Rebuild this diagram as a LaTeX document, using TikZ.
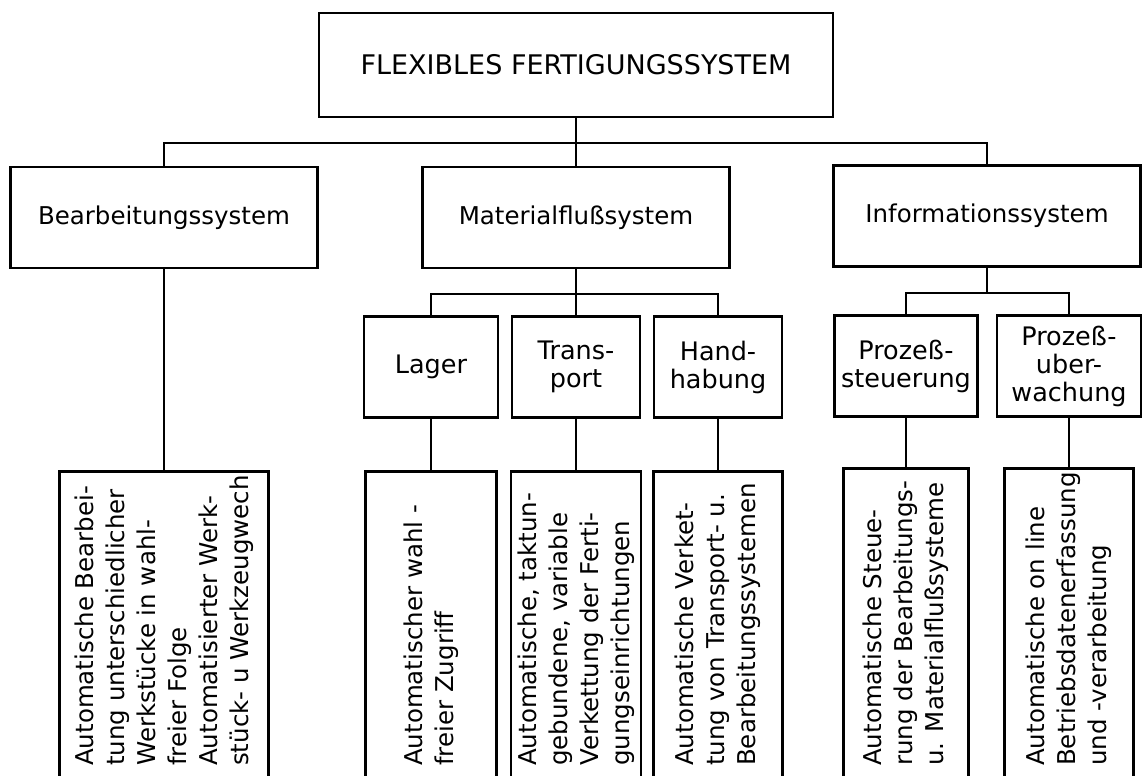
\documentclass[tikz,border=0pt]{standalone}
\usepackage{fontspec}
\setmainfont{DejaVu Sans}
\begin{document}
\begin{tikzpicture}[x=1pt, y=-1pt,
  sysbox/.style={draw, rectangle, line width=2.8pt, inner sep=0pt, align=center, minimum width=307pt, minimum height=101pt, font=\fontsize{24.5}{27}\selectfont},
  subbox/.style={draw, rectangle, line width=2.8pt, inner sep=0pt, align=center, minimum height=101pt, font=\fontsize{25.5}{28}\selectfont},
  detail/.style={draw, rectangle, line width=2.8pt, anchor=north, inner sep=0pt, minimum height=314pt},
  dtext/.style={rotate=90, anchor=west, align=left, inner sep=0pt, font=\fontsize{24.5}{31}\selectfont},
  link/.style={line width=1.8pt}]
\clip (0,0) rectangle (1143,776);

\node[draw, rectangle, line width=2.8pt, minimum width=514pt, minimum height=104pt, font=\fontsize{27}{30}\selectfont] (ffs) at (576,65) {FLEXIBLES FERTIGUNGSSYSTEM};

\node[sysbox] (bearb) at (164,217.5) {Bearbeitungssystem};
\node[sysbox] (mat) at (576,217.5) {Materialflußsystem};
\node[sysbox] (info) at (987,216) {Informationssystem};

\node[subbox, minimum width=134pt] (lager) at (431,367) {Lager};
\node[subbox, minimum width=128pt] (trans) at (576,367) {Trans-\\port};
\node[subbox, minimum width=128pt] (hand) at (718,367) {Hand-\\habung};
\node[subbox, minimum width=143pt] (steu) at (906,366) {Prozeß-\\steuerung};
\node[subbox, minimum width=144pt] (ueber) at (1069,366) {Prozeß-\\uber-\\wachung};

\node[detail, minimum width=209pt] (bearbd) at (164,470) {};
\node[detail, minimum width=131pt] (lagerd) at (431,470) {};
\node[detail, minimum width=130pt] (transd) at (576,470) {};
\node[detail, minimum width=129pt] (handd) at (718,470) {};
\node[detail, minimum width=125pt] (steud) at (906,467) {};
\node[detail, minimum width=129pt] (ueberd) at (1069,467) {};

\node[dtext] (bearbt) at (164,766) {Automatische Bearbei-\\tung unterschiedlicher\\Werkstücke in wahl-\\freier Folge\\Automatisierter Werk-\\stück- u Werkzeugwech};
\node[dtext] (lagert) at (431,766) {Automatischer wahl -\\freier Zugriff};
\node[dtext] (transt) at (576,766) {Automatische, taktun-\\gebundene, variable\\Verkettung der Ferti-\\gungseinrichtungen};
\node[dtext] (handt) at (718,766) {Automatische Verket-\\tung von Transport- u.\\Bearbeitungssystemen};
\node[dtext] (steut) at (906,766) {Automatische Steue-\\rung der Bearbeitungs-\\u. Materialflußsysteme};
\node[dtext] (uebert) at (1069,766) {Automatische on line\\Betriebsdatenerfassung\\und -verarbeitung};

\coordinate (bus) at (576,143);
\coordinate (matbus) at (576,294);
\coordinate (infobus) at (987,293);

\draw[link] (ffs.south) -- (mat.north);
\draw[link] (bearb.north) |- (bus) -| (info.north);

\draw[link] (mat.south) -- (trans.north);
\draw[link] (lager.north) |- (matbus) -| (hand.north);
\draw[link] (info.south) -- (infobus);
\draw[link] (steu.north) |- (infobus) -| (ueber.north);

\draw[link] (bearb.south) -- (bearbd.north);
\draw[link] (lager.south) -- (lagerd.north);
\draw[link] (trans.south) -- (transd.north);
\draw[link] (hand.south) -- (handd.north);
\draw[link] (steu.south) -- (steud.north);
\draw[link] (ueber.south) -- (ueberd.north);
\end{tikzpicture}
\end{document}
